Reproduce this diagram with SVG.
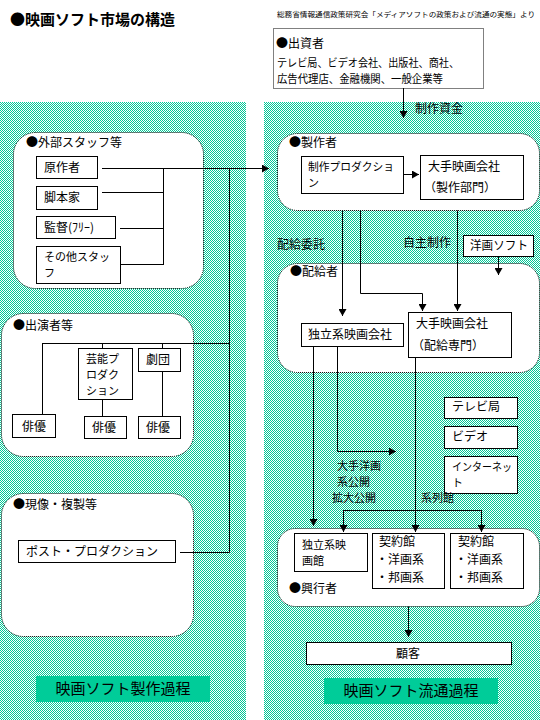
<svg xmlns="http://www.w3.org/2000/svg" width="540" height="720" viewBox="0 0 540 720">
<defs>
<pattern id="dither" width="2" height="2" patternUnits="userSpaceOnUse">
<rect width="2" height="2" fill="#ffffff"/>
<rect x="0" y="0" width="1" height="1" fill="#00c896"/>
<rect x="1" y="1" width="1" height="1" fill="#00c896"/>
</pattern>
<marker id="ah" markerUnits="userSpaceOnUse" markerWidth="8" markerHeight="8" refX="7" refY="4" orient="auto">
<path d="M0,0 L7,4 L0,8 z" fill="#000"/>
</marker>
<style>
text{font-family:"Noto Sans CJK JP","Noto Sans",sans-serif;font-size:12px;fill:#000}
.t{font-size:15px;font-weight:bold}
.src{font-size:7px}
.lab{font-size:15px}
.m{font-size:11px}
.box{fill:#fff;stroke:#000;stroke-width:1}
.grp{fill:#fff;stroke:#000;stroke-width:1;stroke-dasharray:1 1}
.ln{fill:none;stroke:#000;stroke-width:1}
.arr{fill:none;stroke:#000;stroke-width:1;marker-end:url(#ah)}
.band{fill:#00cc99}
</style>
</defs>
<rect width="540" height="720" fill="#fff"/>

<g id="panels">
<rect x="0" y="102" width="246" height="618" fill="url(#dither)"/>
<rect x="264" y="102" width="276" height="618" fill="url(#dither)"/>
</g>

<g id="title">
<text class="t" x="10" y="25">●映画ソフト市場の構造</text>
<text class="src" x="277" y="17" textLength="258" lengthAdjust="spacingAndGlyphs">総務省情報通信政策研究会「メディアソフトの政策および流通の実態」より</text>
</g>

<g id="investor">
<rect class="grp" x="273.5" y="28.5" width="210" height="60"/>
<text x="276" y="48">●出資者</text>
<text class="m" x="277" y="67" textLength="182" lengthAdjust="spacingAndGlyphs">テレビ局、ビデオ会社、出版社、商社、</text>
<text class="m" x="277" y="83" textLength="166" lengthAdjust="spacingAndGlyphs">広告代理店、金融機関、一般企業等</text>
</g>

<g id="staff-group">
<rect class="grp" x="13.5" y="132.5" width="190" height="156" rx="22" ry="22"/>
<text x="26" y="147">●外部スタッフ等</text>
</g>
<g id="n-gensakusha"><rect class="box" x="36.5" y="156.5" width="61" height="22"/><text x="44" y="172">原作者</text></g>
<g id="n-kyakuhonka"><rect class="box" x="36.5" y="186.5" width="61" height="23"/><text x="44" y="202">脚本家</text></g>
<g id="n-kantoku"><rect class="box" x="36.5" y="216.5" width="79" height="22"/><text x="44" y="232">監督(ﾌﾘｰ)</text></g>
<g id="n-sonota"><rect class="box" x="36.5" y="246.5" width="84" height="37"/><text class="m" x="44" y="261">その他スタッ</text><text class="m" x="44" y="277">フ</text></g>

<g id="cast-group">
<rect class="grp" x="1.5" y="313.5" width="192" height="143" rx="22" ry="22"/>
<text x="13" y="330">●出演者等</text>
</g>
<g id="n-haiyu1"><rect class="box" x="12.5" y="414.5" width="43" height="23"/><text x="22" y="431">俳優</text></g>
<g id="n-geino"><rect class="box" x="78.5" y="348.5" width="54" height="51"/><text class="m" x="86" y="363">芸能プ</text><text class="m" x="86" y="379">ロダク</text><text class="m" x="86" y="395">ション</text></g>
<g id="n-haiyu2"><rect class="box" x="84.5" y="416.5" width="42" height="22"/><text x="92" y="432">俳優</text></g>
<g id="n-gekidan"><rect class="box" x="138.5" y="348.5" width="42" height="23"/><text x="146" y="364">劇団</text></g>
<g id="n-haiyu3"><rect class="box" x="138.5" y="416.5" width="42" height="22"/><text x="146" y="432">俳優</text></g>

<g id="post-group">
<rect class="grp" x="1.5" y="493.5" width="192" height="143" rx="22" ry="22"/>
<text x="13" y="509">●現像・複製等</text>
</g>
<g id="n-post"><rect class="box" x="18.5" y="540.5" width="157" height="22"/><text x="26" y="556">ポスト・プロダクション</text></g>

<g id="label-left"><rect class="band" x="36" y="676" width="174" height="26"/><text class="lab" x="123" y="694" text-anchor="middle">映画ソフト製作過程</text></g>

<g id="producer-group">
<rect class="grp" x="277.5" y="133.5" width="262" height="77" rx="20" ry="20"/>
<text x="289" y="147">●製作者</text>
</g>
<g id="n-seisakupro"><rect class="box" x="301.5" y="156.5" width="102" height="37"/><text class="m" x="308" y="171" textLength="86" lengthAdjust="spacingAndGlyphs">制作プロダクショ</text><text class="m" x="308" y="187">ン</text></g>
<g id="n-ote-seisaku"><rect class="box" x="420.5" y="155.5" width="103" height="44"/><text x="428" y="171">大手映画会社</text><text x="424" y="192">（製作部門）</text></g>

<g id="n-yoga-soft"><rect class="box" x="463.5" y="235.5" width="70" height="21"/><text x="470" y="250" textLength="58" lengthAdjust="spacingAndGlyphs">洋画ソフト</text></g>

<g id="distributor-group">
<rect class="grp" x="277.5" y="263.5" width="262" height="109" rx="20" ry="20"/>
<text x="290" y="276">●配給者</text>
</g>
<g id="n-dokuritsu-haikyu"><rect class="box" x="301.5" y="323.5" width="102" height="23"/><text x="308" y="339">独立系映画会社</text></g>
<g id="n-ote-haikyu"><rect class="box" x="408.5" y="312.5" width="103" height="45"/><text x="416" y="328">大手映画会社</text><text x="412" y="350">（配給専門）</text></g>

<g id="n-tv"><rect class="box" x="444.5" y="397.5" width="73" height="21"/><text x="452" y="411">テレビ局</text></g>
<g id="n-video"><rect class="box" x="444.5" y="426.5" width="73" height="22"/><text x="452" y="441">ビデオ</text></g>
<g id="n-internet"><rect class="box" x="444.5" y="456.5" width="73" height="37"/><text class="m" x="452" y="471" textLength="60" lengthAdjust="spacingAndGlyphs">インターネッ</text><text class="m" x="452" y="487">ト</text></g>

<g id="exhibitor-group">
<rect class="grp" x="277.5" y="528.5" width="262" height="78" rx="18" ry="18"/>
<text x="289" y="593">●興行者</text>
</g>
<g id="n-dokuritsu-kan"><rect class="box" x="294.5" y="533.5" width="73" height="38"/><text class="m" x="302" y="549">独立系映</text><text class="m" x="302" y="565">画館</text></g>
<g id="n-keiyaku1"><rect class="box" x="372.5" y="533.5" width="72" height="55"/><text x="379" y="546">契約館</text><text x="376" y="564">・洋画系</text><text x="376" y="582">・邦画系</text></g>
<g id="n-keiyaku2"><rect class="box" x="450.5" y="533.5" width="73" height="55"/><text x="458" y="546">契約館</text><text x="455" y="564">・洋画系</text><text x="455" y="582">・邦画系</text></g>

<g id="n-kokyaku"><rect class="box" x="306.5" y="642.5" width="205" height="22"/><text x="408" y="658" text-anchor="middle">顧客</text></g>

<g id="label-right"><rect class="band" x="324" y="678" width="174" height="26"/><text class="lab" x="411" y="696" text-anchor="middle">映画ソフト流通過程</text></g>

<g id="edge-labels">
<text x="415" y="113">制作資金</text>
<text x="277" y="249">配給委託</text>
<text x="403" y="247">自主制作</text>
<text class="m" x="337" y="470">大手洋画</text>
<text class="m" x="337" y="486">系公開</text>
<text class="m" x="332" y="502">拡大公開</text>
<text class="m" x="421" y="502">系列館</text>
</g>

<g id="connectors">
<path class="arr" d="M403.5,88 V118"/>
<path class="arr" d="M102,168.5 H269"/>
<path class="ln" d="M102,192.5 H163.5 M120,228.5 H163.5 M120,264.5 H163.5 M163.5,168 V265"/>
<path class="ln" d="M229.5,168 V552.5"/>
<path class="ln" d="M42.5,343.5 H229.5 M42.5,343 V414.5 M102.5,343 V348.5 M102.5,399.5 V416.5 M162.5,343 V348.5 M162.5,371.5 V416.5"/>
<path class="ln" d="M180,552.5 H229.5"/>
<path class="arr" d="M403.5,174.5 H419"/>
<path class="arr" d="M342.5,210.5 V316"/>
<path class="arr" d="M360.5,210.5 V293.5 H422.5 V311"/>
<path class="arr" d="M457.5,210.5 V311"/>
<path class="arr" d="M498.5,256.5 V275"/>
<path class="arr" d="M313.5,346.5 V526"/>
<path class="arr" d="M337.5,346.5 V451.5 H396"/>
<path class="arr" d="M415.5,357.5 V532"/>
<path class="ln" d="M343.5,510.5 H481.5"/>
<path class="arr" d="M343.5,510 V532"/>
<path class="arr" d="M481.5,510 V532"/>
<path class="arr" d="M408.5,606.5 V637"/>
</g>
</svg>
